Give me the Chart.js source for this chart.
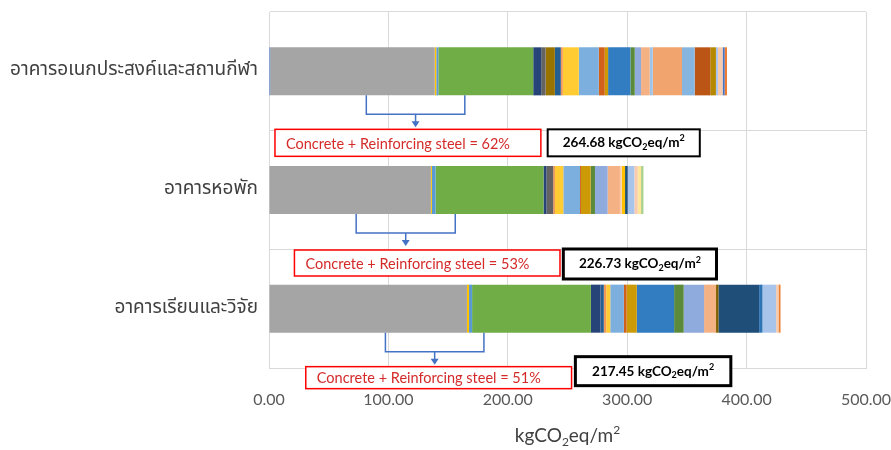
<!DOCTYPE html>
<html>
<head>
<meta charset="utf-8">
<script src="https://cdn.jsdelivr.net/npm/chart.js@4"></script>
<style>
  html, body { margin: 0; padding: 0; background: #fff; }
  #wrap { width: 891px; height: 450px; position: relative; }
</style>
</head>
<body>
<div id="wrap"><canvas id="carbonChart"></canvas></div>
<script>
// Embodied carbon per building, split by material (kgCO2eq/m2)
const buildings = ['อาคารอเนกประสงค์และสถานกีฬา', 'อาคารหอพัก', 'อาคารเรียนและวิจัย'];

// one value per material, in stacking order
const sportsHall = [1.0, 137.8, 1.3, 1.7, 79.5, 6.7, 3.6, 7.8, 5.0, 1.7, 13.4, 16.7, 5.0, 2.8, 18.7, 3.6, 5.3, 7.3,
  2.5, 24.5, 10.6, 0, 0, 0, 13.1, 4.7, 0, 0, 1.7, 3.9, 0, 1.7, 0, 2.0];
const dormitory = [0, 135.6, 0.8, 3.1, 90.4, 2.5, 5.6, 0, 0, 1.5, 7.0, 14.0, 0.8, 8.1, 0, 3.6, 10.6, 10.3,
  0, 0, 0, 1.5, 2.8, 0, 0, 0, 2.2, 0, 5.6, 2.8, 2.8, 0, 2.0, 0];
const research = [0, 165.8, 1.7, 2.6, 99.5, 8.0, 0, 0, 2.8, 2.0, 3.4, 11.4, 2.3, 8.5, 31.3, 8.0, 17.1, 10.0,
  0, 0, 0, 0, 0, 2.0, 0, 0, 34.1, 2.8, 11.4, 2.0, 0, 0, 0, 1.7];

const segmentColors = ['#4472C4', '#A5A5A5', '#FFC000', '#5B9BD5', '#70AD47', '#264478', '#636363', '#997300',
  '#255E91', '#F1975A', '#FFCD33', '#7CAFDD', '#D0601A', '#CC9A06', '#327DC2', '#5A8A3A', '#8FAADC', '#F4B183',
  '#9DC3E6', '#F1A46E', '#86B5E0', '#F8CBAD', '#FFC000', '#7F6000', '#BB5515', '#B58800', '#1F4E79', '#2E75B6',
  '#A9C4EB', '#F8CBAD', '#FFE699', '#4472C4', '#A9D18E', '#ED7D31'];

const xTicks = [0, 100, 200, 300, 400, 500];
const shareLabels = ['Concrete + Reinforcing steel = 62%', 'Concrete + Reinforcing steel = 53%', 'Concrete + Reinforcing steel = 51%'];
const totalLabels = ['264.68', '226.73', '217.45'];

// callout placement: x in axis units, y in px from the category centre
const callouts = [
  { bracket: [81.5, 164], red: [5, 227.7, 58, 85], black: [233.4, 360.8, 58, 85], bw: 2 },
  { bracket: [73, 156], red: [21.3, 243.7, 60, 86], black: [246.5, 374.8, 59, 89], bw: 3 },
  { bracket: [97.5, 180], red: [30.8, 253.4, 58, 80], black: [256.6, 386.8, 48, 77], bw: 3 }
];

const FONT = 'Lato, "Open Sans", sans-serif';
const THAI_FONT = 'Tahoma, "Leelawadee UI", "Noto Sans Thai", "Noto Sans", sans-serif';

const datasets = segmentColors.map((color, i) => ({
  label: 'M' + (i + 1),
  data: [sportsHall[i], dormitory[i], research[i]],
  backgroundColor: color,
  borderWidth: 0,
  barPercentage: 0.405,
  categoryPercentage: 1
}));

// text with subscript / superscript parts
function drawRich(ctx, parts, x, y, size, weight, color, align) {
  const small = Math.round(size * 0.65);
  let width = 0;
  parts.forEach(p => {
    ctx.font = weight + ' ' + (p.sub || p.sup ? small : size) + 'px ' + FONT;
    p.w = ctx.measureText(p.t).width;
    width += p.w;
  });
  let cx = align === 'center' ? x - width / 2 : x;
  ctx.fillStyle = color;
  ctx.textBaseline = 'middle';
  ctx.textAlign = 'left';
  parts.forEach(p => {
    ctx.font = weight + ' ' + (p.sub || p.sup ? small : size) + 'px ' + FONT;
    let dy = p.sub ? size * 0.3 : p.sup ? -size * 0.32 : 0;
    ctx.fillText(p.t, cx, y + dy);
    cx += p.w;
  });
}

const calloutPlugin = {
  id: 'callouts',
  afterDraw(chart) {
    const ctx = chart.ctx;
    const xs = chart.scales.x, ys = chart.scales.y;
    ctx.save();
    callouts.forEach((c, i) => {
      const cy = ys.getPixelForValue(i);
      const meta = chart.getDatasetMeta(0).data[i];
      const barBottom = cy + meta.height / 2;
      const l = xs.getPixelForValue(c.bracket[0]);
      const r = xs.getPixelForValue(c.bracket[1]);
      const mid = (l + r) / 2;
      const hy = cy + 43, tip = cy + 56;
      // bracket and arrow
      ctx.strokeStyle = '#4472C4';
      ctx.lineWidth = 1.5;
      ctx.beginPath();
      ctx.moveTo(l, barBottom); ctx.lineTo(l, hy); ctx.lineTo(r, hy); ctx.lineTo(r, barBottom);
      ctx.moveTo(mid, hy); ctx.lineTo(mid, tip - 5);
      ctx.stroke();
      ctx.fillStyle = '#4472C4';
      ctx.beginPath();
      ctx.moveTo(mid - 4, tip - 6); ctx.lineTo(mid + 4, tip - 6); ctx.lineTo(mid, tip); ctx.closePath();
      ctx.fill();
      // red share box
      const rx0 = xs.getPixelForValue(c.red[0]), rx1 = xs.getPixelForValue(c.red[1]);
      ctx.fillStyle = '#fff';
      ctx.fillRect(rx0, cy + c.red[2], rx1 - rx0, c.red[3] - c.red[2]);
      ctx.strokeStyle = '#FF0000';
      ctx.lineWidth = 1.5;
      ctx.strokeRect(rx0, cy + c.red[2], rx1 - rx0, c.red[3] - c.red[2]);
      drawRich(ctx, [{ t: shareLabels[i] }], rx0 + 11, cy + (c.red[2] + c.red[3]) / 2 + 1, 14.5, 'normal', '#D42A2A', 'left');
      // black total box
      const bx0 = xs.getPixelForValue(c.black[0]), bx1 = xs.getPixelForValue(c.black[1]);
      ctx.fillStyle = '#fff';
      ctx.fillRect(bx0, cy + c.black[2], bx1 - bx0, c.black[3] - c.black[2]);
      ctx.strokeStyle = '#000';
      ctx.lineWidth = c.bw;
      ctx.strokeRect(bx0, cy + c.black[2], bx1 - bx0, c.black[3] - c.black[2]);
      drawRich(ctx, [{ t: totalLabels[i] + ' kgCO' }, { t: '2', sub: true }, { t: 'eq/m' }, { t: '2', sup: true }],
        (bx0 + bx1) / 2, cy + (c.black[2] + c.black[3]) / 2, 13.5, 'bold', '#000', 'center');
    });
    // axis title
    const tx = (xs.left + xs.right) / 2;
    drawRich(ctx, [{ t: 'kgCO' }, { t: '2', sub: true }, { t: 'eq/m' }, { t: '2', sup: true }],
      tx, 436, 19, 'normal', '#404040', 'center');
    ctx.restore();
  }
};

new Chart(document.getElementById('carbonChart'), {
  type: 'bar',
  data: { labels: buildings, datasets: datasets },
  plugins: [calloutPlugin],
  options: {
    indexAxis: 'y',
    responsive: true,
    maintainAspectRatio: false,
    animation: false,
    layout: { padding: { top: 12, right: 25, left: 0, bottom: 0 } },
    plugins: { legend: { display: false }, tooltip: { enabled: false } },
    scales: {
      x: {
        stacked: true,
        min: 0,
        max: 500,
        afterBuildTicks: s => { s.ticks = xTicks.map(v => ({ value: v })); },
        afterFit: s => { s.height = 82; s.paddingLeft = 0; s.paddingRight = 0; },
        grid: { color: '#D9D9D9', drawTicks: false },
        border: { color: '#D9D9D9' },
        ticks: {
          padding: 22,
          color: '#595959',
          font: { family: FONT, size: 16 },
          callback: v => Number(v).toFixed(2)
        }
      },
      y: {
        stacked: true,
        afterFit: s => { s.width = 269; s.paddingTop = 0; s.paddingBottom = 0; },
        grid: { color: '#D9D9D9', drawTicks: false, offset: true },
        border: { color: '#D9D9D9' },
        ticks: {
          padding: 11,
          color: '#404040',
          font: { family: THAI_FONT, size: 19 }
        }
      }
    }
  }
});
</script>
</body>
</html>
